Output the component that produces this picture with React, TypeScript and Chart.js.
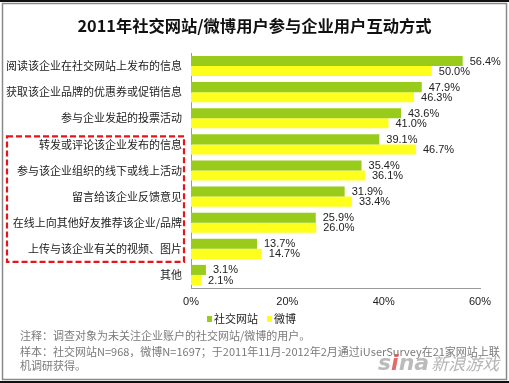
import React, { useEffect, useRef } from "react";
import { Chart, registerables } from "chart.js";

Chart.register(...registerables);

const categories = [
  "阅读该企业在社交网站上发布的信息",
  "获取该企业品牌的优惠券或促销信息",
  "参与企业发起的投票活动",
  "转发或评论该企业发布的信息",
  "参与该企业组织的线下或线上活动",
  "留言给该企业反馈意见",
  "在线上向其他好友推荐该企业/品牌",
  "上传与该企业有关的视频、图片",
  "其他",
];
const socialValues = [56.4, 47.9, 43.6, 39.1, 35.4, 31.9, 25.9, 13.7, 3.1];
const weiboValues = [50.0, 46.3, 41.0, 46.7, 36.1, 33.4, 26.0, 14.7, 2.1];
const seriesNames = ["社交网站", "微博"];
const xTicks = [0, 20, 40, 60];
const titleText = "2011年社交网站/微博用户参与企业用户互动方式";
const notes = [
  "注释：调查对象为未关注企业账户的社交网站/微博的用户。",
  "样本：社交网站N=968，微博N=1697；于2011年11月-2012年2月通过iUserSurvey在21家网站上联",
  "机调研获得。",
];
const highlightFrom = 3;
const highlightTo = 7;

const GREEN = "#99CC1A";
const YELLOW = "#FFFF1E";
const CJK = '"Noto Sans CJK SC", "Noto Sans", sans-serif';

const labelPlugin = {
  id: "valueLabels",
  afterDatasetsDraw(chart: any) {
    const ctx = chart.ctx;
    ctx.save();
    ctx.font = '11px "Liberation Sans", Arial, sans-serif';
    ctx.fillStyle = "#222";
    ctx.textBaseline = "middle";
    ctx.textAlign = "left";
    chart.data.datasets.forEach((ds: any, di: number) => {
      const meta = chart.getDatasetMeta(di);
      meta.data.forEach((bar: any, i: number) => {
        const v = ds.data[i];
        ctx.fillText(v.toFixed(1) + "%", bar.x + 7, bar.y + 0.5);
      });
    });
    ctx.restore();
  },
};

const framePlugin = {
  id: "frameAndBox",
  afterDraw(chart: any) {
    const ctx = chart.ctx;
    const w = chart.width;
    const h = chart.height;
    ctx.save();
    ctx.fillStyle = "#111";
    ctx.fillRect(0, 0, w, 2);
    ctx.fillRect(0, h - 2, w, 2);
    ctx.strokeStyle = "#8a8a8a";
    ctx.lineWidth = 1.5;
    ctx.strokeRect(2.5, 3.5, w - 5, h - 7);
    const y = chart.scales.y;
    const step = (y.bottom - y.top) / categories.length;
    const top = y.getPixelForValue(highlightFrom) - step / 2 + 5;
    const bottom = y.getPixelForValue(highlightTo) + step / 2;
    const left = 7;
    const right = chart.chartArea.left - 7;
    ctx.strokeStyle = "#e8141b";
    ctx.lineWidth = 2.2;
    ctx.setLineDash([6, 3]);
    ctx.strokeRect(left, top, right - left, bottom - top);
    ctx.restore();
  },
};

export default function App() {
  const ref = useRef<HTMLCanvasElement | null>(null);
  useEffect(() => {
    if (!ref.current) return;
    const chart = new Chart(ref.current, {
      type: "bar",
      data: {
        labels: categories,
        datasets: [
          {
            label: seriesNames[0],
            data: socialValues,
            backgroundColor: GREEN,
            borderWidth: 0,
            categoryPercentage: 0.77,
            barPercentage: 1.0,
          },
          {
            label: seriesNames[1],
            data: weiboValues,
            backgroundColor: YELLOW,
            borderWidth: 0,
            categoryPercentage: 0.77,
            barPercentage: 1.0,
          },
        ],
      },
      options: {
        indexAxis: "y",
        animation: false,
        responsive: false,
        devicePixelRatio: 1,
        layout: { padding: { top: 53, left: 6, right: 29, bottom: 75 } },
        plugins: {
          legend: { display: false },
          tooltip: { enabled: false },
          title: { display: false },
        },
        scales: {
          y: {
            grid: { display: false, drawTicks: false },
            border: { display: true, color: "#9a9a9a", width: 1 },
            ticks: { color: "#222", font: { size: 11, family: CJK }, padding: 9, autoSkip: false },
            afterFit(scale: any) {
              scale.width = 185;
            },
          },
          x: {
            min: 0,
            max: 60,
            afterBuildTicks(scale: any) {
              scale.ticks = xTicks.map((v) => ({ value: v }));
            },
            grid: { display: false, drawTicks: false },
            border: { display: true, color: "#9a9a9a", width: 1 },
            ticks: {
              color: "#222",
              font: { size: 11, family: '"Liberation Sans", Arial, sans-serif' },
              padding: 7,
              callback: (v: any) => v + "%",
            },
            afterFit(scale: any) {
              scale.height = 20;
            },
          },
        },
      } as any,
      plugins: [labelPlugin, framePlugin],
    });
    return () => chart.destroy();
  }, []);

  const sq = (c: string) => (
    <span style={{ display: "inline-block", width: 5, height: 6, background: c, marginRight: 2, verticalAlign: "middle", position: "relative", top: -1 }} />
  );

  return (
    <div style={{ position: "fixed", left: 0, top: 0, width: 509, height: 383, background: "#fff", overflow: "hidden" }}>
      <canvas ref={ref} width={509} height={383} style={{ position: "absolute", left: 0, top: 0, width: 509, height: 383 }} />
      <div style={{ position: "absolute", left: 0, top: 14, width: 509, textAlign: "center", font: `bold 16.3px ${CJK}`, color: "#111", lineHeight: "22px", whiteSpace: "nowrap" }}>
        {titleText}
      </div>
      <div style={{ position: "absolute", left: 207, top: 309, font: `11px ${CJK}`, color: "#222", whiteSpace: "nowrap", lineHeight: "18px" }}>
        {sq(GREEN)}
        <span>{seriesNames[0]}</span>
        <span style={{ display: "inline-block", width: 9 }} />
        {sq(YELLOW)}
        <span>{seriesNames[1]}</span>
      </div>
      {notes.map((n, i) => (
        <div
          key={i}
          style={{ position: "absolute", left: 20, top: [327, 343, 357][i], font: `11px ${CJK}`, color: "#7a7a7a", whiteSpace: "nowrap", lineHeight: "16px" }}
        >
          {n}
        </div>
      ))}
      <div style={{ position: "absolute", left: 378, top: 350, whiteSpace: "nowrap", fontStyle: "italic", color: "#a9a9a9", opacity: 0.85 }}>
        <span style={{ font: 'italic bold 22px "DejaVu Sans", sans-serif', color: "#b0b0b0" }}>
          s<span style={{ color: "#e05050" }}>i</span>na
        </span>
        <span style={{ font: `italic 17px ${CJK}`, marginLeft: 2 }}>新浪游戏</span>
      </div>
    </div>
  );
}
